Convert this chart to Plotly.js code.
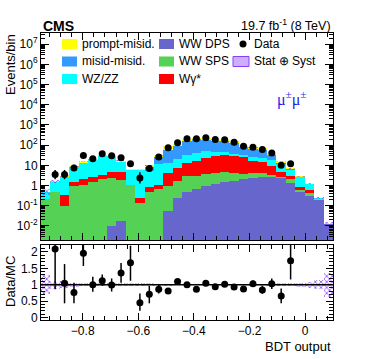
<!DOCTYPE html>
<html>
<head>
<meta charset="utf-8">
<script src="https://cdn.plot.ly/plotly-3.0.1.min.js"></script>
<style>body{margin:0;background:white} #plot{width:374px;height:359px}</style>
</head>
<body>
<div id="plot"></div>
<script>
// histogram binning of the BDT output
var nBins = 31;
var xLo = -0.95, xHi = 0.1;
var binW = (xHi - xLo) / nBins;
var binCenters = [];
for (var i = 0; i < nBins; i++) binCenters.push(xLo + (i + 0.5) * binW);

// stacked backgrounds, bottom to top (events per bin)
var wwDps = [0,0,0,0,0,0,0,0.0105,0.017,0,0,0,0,0.057,0.245,0.47,0.69,0.92,1.2,1.46,1.77,2.15,2.5,2.7,2.7,2.5,1.3,0.5,0.3,0.2,0.012];
var wwSps = [0.22,0.47,0.095,0.92,1.1,1.45,2.0,2.39,1.98,1.1,0.14,0.47,0.69,0.94,1.39,2.43,2.41,2.98,3.05,3.14,2.48,1.75,1.5,1.3,0.5,0.3,0.7,0.13,0.13,0,0];
var wGamma = [0,0,0.255,0.53,0.9,1.25,1.5,2.2,2.6,0,0.1,0.39,0.41,3.2,5.87,10.4,14.2,19.6,23.75,26.4,23.75,21.1,13,11,6.6,1.8,1.1,0.23,0.16,0,0];
var wzZz = [0.25,1.03,2.25,6.55,11.3,15.3,24.5,20.4,10.4,4.9,5.76,4.14,10.9,9.1,13.5,20.7,23.7,26.5,20,14,10,8,9,9,9.6,7.4,2.9,1.84,0.61,0.03,0];
var misidMisid = [0,0,0,0,0,0,0,0,0,0,0,3.5,13,46.7,74,136,159,135,122,110,87,52,39,36,13.6,1,0.5,0,0,0,0];
var promptMisid = [0.03,0.1,0.3,1.2,2.0,2.0,5.0,3.0,2.0,0.6,0.7,1.4,5,31,23,35,38,36,32,28,25,16,12,13,7,2,0.5,0.2,0.05,0.01,0];
// relative stat+syst uncertainty of the prediction
var mcRelErr = [0.3,0.12,0.1,0.06,0.05,0.04,0.04,0.04,0.04,0.04,0.04,0.04,0.03,0.03,0.02,0.02,0.02,0.02,0.02,0.02,0.02,0.02,0.03,0.03,0.03,0.04,0.05,0.06,0.09,0.14,0.37];

// data
var dataBins = [1,2,3,4,5,6,7,8,9,10,11,12,13,14,15,16,17,18,19,20,21,22,23,24,25,26];
var dataCounts = [3.5,3.5,7.5,30.6,21,38,30,23.5,11.9,2.4,6.9,26,74,130,205,210,230,190,185,139,88,79,61,41,10,12];
var ratio = [2.09,1.04,0.76,1.96,1.0,1.12,0.99,1.36,1.67,0.45,0.71,0.86,0.81,1.1,1.0,0.86,1.04,0.94,1.01,0.93,0.87,1.03,0.84,1.03,0.65,1.73];
var ratioUp = [1.2,0.59,0.3,0.25,0.24,0.19,0.2,0.3,0.52,0.28,0.25,0.14,0.05,0.05,0.04,0.04,0.04,0.04,0.04,0.04,0.09,0.1,0.12,0.16,0.23,0.5];
var ratioDown = [1.23,0.61,0.33,0.39,0.22,0.15,0.2,0.3,0.55,0.25,0.28,0.13,0.05,0.05,0.04,0.04,0.04,0.04,0.04,0.04,0.09,0.1,0.12,0.16,0.22,0.57];

// col/row = place in the 3x3 legend box
var procs = [
  {name: 'WW DPS', vals: wwDps, color: '#6666cc', col: 1, row: 0},
  {name: 'WW SPS', vals: wwSps, color: '#55d155', col: 1, row: 1},
  {name: 'W\u03b3*', vals: wGamma, color: '#ff0000', col: 1, row: 2},
  {name: 'WZ/ZZ', vals: wzZz, color: '#00ffff', col: 0, row: 2},
  {name: 'misid-misid.', vals: misidMisid, color: '#3399ff', col: 0, row: 1},
  {name: 'prompt-misid.', vals: promptMisid, color: '#ffff00', col: 0, row: 0}
];

var traces = [];
var cum = binCenters.map(function() { return 0; });
procs.forEach(function(p) {
  traces.push({
    type: 'bar', x: binCenters, y: p.vals, base: cum.slice(), width: binW,
    xaxis: 'x', yaxis: 'y', name: p.name, showlegend: false,
    marker: {color: p.color, line: {width: 0}}, hoverinfo: 'skip'
  });
  cum = cum.map(function(c, i) { return c + p.vals[i]; });
});
var total = cum;

var hatchCol = '#8a3ffc';
var hatch = {shape: 'x', fgcolor: hatchCol, bgcolor: 'rgba(0,0,0,0)', size: 4, solidity: 0.35};
traces.push({
  type: 'bar', x: binCenters, width: binW,
  y: total.map(function(t, i) { return 2 * t * mcRelErr[i]; }),
  base: total.map(function(t, i) { return t * (1 - mcRelErr[i]); }),
  xaxis: 'x', yaxis: 'y', showlegend: false,
  marker: {color: 'rgba(0,0,0,0)', pattern: hatch, line: {width: 0}}, hoverinfo: 'skip'
});

var dataX = dataBins.map(function(b) { return binCenters[b]; });
traces.push({
  type: 'scatter', mode: 'markers', x: dataX, y: dataCounts,
  xaxis: 'x', yaxis: 'y', showlegend: false,
  marker: {color: 'black', size: 7},
  error_y: {type: 'data', symmetric: false, color: 'black', thickness: 1.5, width: 0,
    array: dataCounts.map(function(n) { return Math.sqrt(n + 0.25) + 0.5; }),
    arrayminus: dataCounts.map(function(n) { return Math.sqrt(n + 0.25) - 0.5; })}
});

// ratio panel
traces.push({
  type: 'bar', x: binCenters, width: binW,
  y: mcRelErr.map(function(e) { return 2 * e; }),
  base: mcRelErr.map(function(e) { return 1 - e; }),
  xaxis: 'x2', yaxis: 'y2', showlegend: false,
  marker: {color: 'rgba(0,0,0,0)', pattern: hatch, line: {width: 0}}, hoverinfo: 'skip'
});
traces.push({
  type: 'scatter', mode: 'markers', x: dataX, y: ratio,
  xaxis: 'x2', yaxis: 'y2', showlegend: false,
  marker: {color: 'black', size: 7},
  error_y: {type: 'data', symmetric: false, array: ratioUp, arrayminus: ratioDown,
    color: 'black', thickness: 1.5, width: 0}
});

var yTicks = [], yText = [], yMinor = [];
for (var d = -2; d <= 7; d++) {
  yTicks.push(Math.pow(10, d));
  yText.push(d == 0 ? '1' : d == 1 ? '10' : '10<sup>' + d + '</sup>');
}
for (var d = -3; d <= 7; d++) {
  for (var k = 2; k <= 9; k++) yMinor.push(k * Math.pow(10, d));
}

var axisBase = {
  showline: true, linecolor: 'black', linewidth: 1, mirror: 'ticks',
  ticks: 'inside', tickcolor: 'black', showgrid: false, zeroline: false
};

// pixel -> paper helpers (plot area is x 41..333, y 33..320)
function px(x) { return (x - 41) / 292; }
function py(y) { return (320 - y) / 287; }

// hand-placed legend, ROOT style 3 columns
var shapes = [{type: 'line', xref: 'x2 domain', yref: 'y2', x0: 0, x1: 1, y0: 1, y1: 1,
  line: {color: 'black', width: 1.5}}];
var annotations = [];
var colSwatch = [62, 159], colText = [80, 177], rowY = [44, 61.5, 79];
procs.forEach(function(p) {
  var yc = rowY[p.row];
  shapes.push({type: 'rect', xref: 'paper', yref: 'paper',
    x0: px(colSwatch[p.col]), x1: px(colSwatch[p.col] + 15), y0: py(yc + 5), y1: py(yc - 5),
    fillcolor: p.color, line: {width: 0}});
  annotations.push({text: p.name, xref: 'paper', yref: 'paper', x: px(colText[p.col]), y: py(yc),
    xanchor: 'left', yanchor: 'middle', showarrow: false, font: {size: 12}});
});
shapes.push({type: 'circle', xref: 'paper', yref: 'paper',
  x0: px(239.5), x1: px(246.5), y0: py(rowY[0] + 3.5), y1: py(rowY[0] - 3.5),
  fillcolor: 'black', line: {width: 0}});
shapes.push({type: 'rect', xref: 'paper', yref: 'paper',
  x0: px(233), x1: px(249), y0: py(rowY[1] + 5), y1: py(rowY[1] - 5),
  fillcolor: 'rgba(160,110,250,0.55)', line: {color: hatchCol, width: 1}});
annotations.push({text: 'Data', xref: 'paper', yref: 'paper', x: px(252), y: py(rowY[0]),
  xanchor: 'left', yanchor: 'middle', showarrow: false, font: {size: 12}});
annotations.push({text: 'Stat \u2295 Syst', xref: 'paper', yref: 'paper', x: px(252), y: py(rowY[1]),
  xanchor: 'left', yanchor: 'middle', showarrow: false, font: {size: 12}});

annotations = annotations.concat([
  {text: '<b>CMS</b>', xref: 'paper', yref: 'paper', x: 0, y: py(26), xanchor: 'left', yanchor: 'middle',
    showarrow: false, font: {size: 14}},
  {text: '19.7 fb<sup>-1</sup> (8 TeV)', xref: 'paper', yref: 'paper', x: 1, y: py(25), xanchor: 'right',
    yanchor: 'middle', showarrow: false, font: {size: 12.5}},
  {text: '\u03bc<sup>\u00b1</sup>\u03bc<sup>\u00b1</sup>', xref: 'paper', yref: 'paper', x: px(291), y: py(98),
    xanchor: 'center', yanchor: 'middle',
    showarrow: false, font: {family: 'Liberation Serif, serif', size: 16, color: '#2222ee'}},
  {text: 'Events/bin', xref: 'paper', yref: 'paper', x: px(10), y: py(65), textangle: -90,
    xanchor: 'center', yanchor: 'middle', showarrow: false, font: {size: 13}},
  {text: 'Data/MC', xref: 'paper', yref: 'paper', x: px(10), y: py(282), textangle: -90,
    xanchor: 'center', yanchor: 'middle', showarrow: false, font: {size: 13}},
  {text: 'BDT output', xref: 'paper', yref: 'paper', x: 1, y: py(347), xanchor: 'right', yanchor: 'middle',
    showarrow: false, font: {size: 13}}
]);

var layout = {
  width: 374, height: 359,
  margin: {l: 41, r: 41, t: 33, b: 39},
  paper_bgcolor: 'white', plot_bgcolor: 'white',
  barmode: 'overlay', bargap: 0, showlegend: false,
  font: {family: 'Liberation Sans, Arial, sans-serif', size: 12, color: 'black'},
  xaxis: Object.assign({}, axisBase, {
    domain: [0, 1], anchor: 'y', range: [xLo, xHi], showticklabels: false,
    tick0: 0, dtick: 0.2, ticklen: 7,
    minor: {ticks: 'inside', ticklen: 4, tick0: 0, dtick: 0.04, tickcolor: 'black'}
  }),
  yaxis: Object.assign({}, axisBase, {
    domain: [0.279, 1], anchor: 'x', type: 'log', range: [-2.69, 7.55],
    tickmode: 'array', tickvals: yTicks, ticktext: yText, ticklen: 8,
    minor: {ticks: 'inside', ticklen: 4, tickmode: 'array', tickvals: yMinor, tickcolor: 'black'}
  }),
  xaxis2: Object.assign({}, axisBase, {
    domain: [0, 1], anchor: 'y2', range: [xLo, xHi],
    tickmode: 'array', tickvals: [-0.8, -0.6, -0.4, -0.2, 0],
    ticktext: ['\u22120.8', '\u22120.6', '\u22120.4', '\u22120.2', '0'], ticklen: 7,
    minor: {ticks: 'inside', ticklen: 4, tick0: 0, dtick: 0.04, tickcolor: 'black'}
  }),
  yaxis2: Object.assign({}, axisBase, {
    domain: [0, 0.261], anchor: 'x2', range: [-0.08, 2.21],
    tickmode: 'array', tickvals: [0, 0.5, 1, 1.5, 2], ticktext: ['0', '0.5', '1', '1.5', '2'],
    ticklen: 7,
    minor: {ticks: 'inside', ticklen: 4, tick0: 0, dtick: 0.1, tickcolor: 'black'}
  }),
  shapes: shapes,
  annotations: annotations
};

Plotly.newPlot('plot', traces, layout, {displayModeBar: false, staticPlot: true});
</script>
</body>
</html>
